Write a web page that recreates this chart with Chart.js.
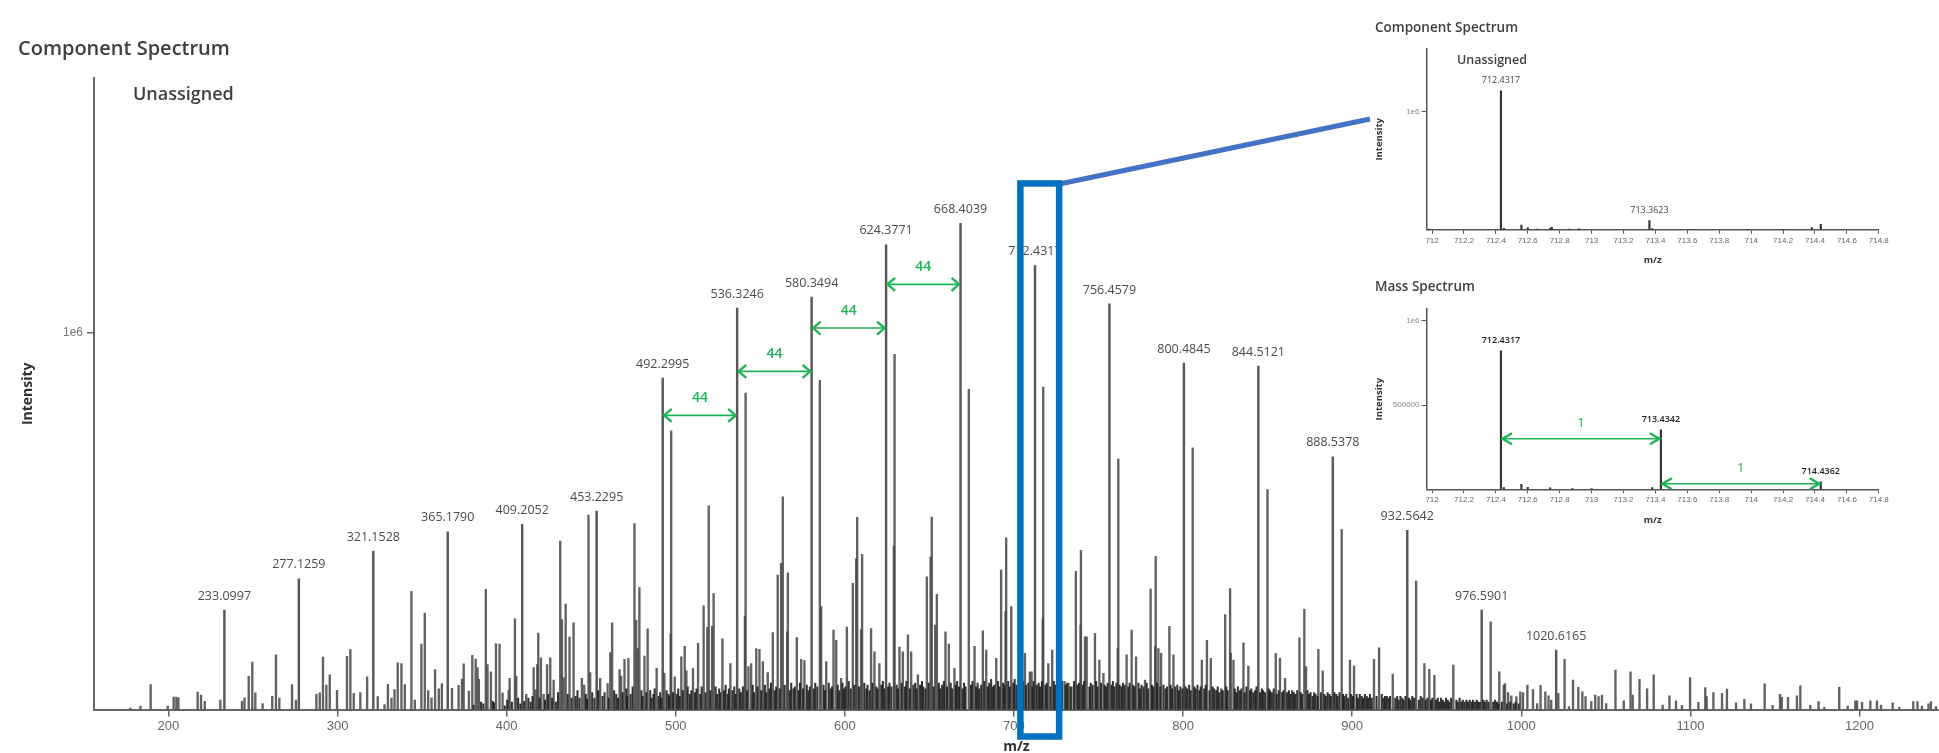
<!DOCTYPE html>
<html lang="en">
<head>
<meta charset="UTF-8">
<title>Component Spectrum</title>
<style>
    html, body { margin:0; padding:0; background:#fff; overflow:hidden; }
    .page { position:relative; width:1939px; height:753px; overflow:hidden; }
    .box-main { position:absolute; left:0; top:0; width:1939px; height:765px; }
    .box-inset1 { position:absolute; left:1360px; top:0; width:579px; height:270px; }
    .box-inset2 { position:absolute; left:1360px; top:250px; width:579px; height:280px; }
</style>
</head>
<body>
<div class="page">
    <div class="box-main"><canvas id="mainChart"></canvas></div>
    <div class="box-inset1"><canvas id="inset1"></canvas></div>
    <div class="box-inset2"><canvas id="inset2"></canvas></div>
</div>
<script src="https://cdn.jsdelivr.net/npm/chart.js@4.4.1/dist/chart.umd.min.js"></script>
<script>
// intensities are in units of 1e6

// labelled peaks of the component spectrum [m/z, intensity]
const labelledPeaks = [
    [233.0997, .264], [277.1259, .347], [321.1528, .421], [365.1790, .472], [409.2052, .492],
    [453.2295, .527], [492.2995, .880], [536.3246, 1.066], [580.3494, 1.095], [624.3771, 1.234],
    [668.4039, 1.291], [712.4317, 1.179], [756.4579, 1.077], [800.4845, .920], [844.5121, .912],
    [888.5378, .671], [932.5642, .476], [976.5901, .264], [1020.6165, .158]
];

// other visible peaks [m/z, intensity]
const otherPeaks = [
    [177.5, .004], [183.5, .009], [189.5, .066], [199.6, .009], [203.1, .033], [204.7, .033], [205.9, .031],
    [217.3, .046], [219.3, .038], [221.5, .022], [230.7, .025], [243.5, .022], [245.0, .031], [247.5, .088],
    [249.6, .126], [251.4, .044], [255.7, .016], [261.4, .035], [263.6, .145], [265.6, .030], [273.1, .066],
    [275.4, .025], [287.5, .040], [289.5, .044], [291.4, .139], [293.4, .065], [295.4, .092], [299.7, .051],
    [305.6, .141], [307.6, .159], [309.6, .043], [313.5, .045], [317.5, .087], [323.8, .034], [327.8, .013],
    [329.8, .067], [331.9, .030], [333.7, .053], [335.6, .124], [337.8, .122], [339.8, .066], [343.7, .314],
    [345.7, .025], [349.6, .174], [351.6, .256], [353.6, .050], [355.6, .031], [357.7, .106], [359.9, .055],
    [361.7, .069], [367.7, .056], [371.6, .064], [373.6, .081], [374.6, .121], [377.7, .049], [379.7, .144],
    [381.7, .134], [382.8, .111], [383.6, .080], [387.7, .319], [388.7, .119], [390.7, .100], [393.7, .175],
    [395.8, .174], [397.6, .044], [401.2, .050], [401.8, .083], [404.9, .241], [405.7, .088], [411.6, .040],
    [416.0, .111], [417.1, .053], [418.1, .119], [418.7, .203], [420.3, .137], [421.9, .040], [423.9, .119],
    [425.8, .137], [427.8, .078], [431.7, .447], [432.7, .239], [433.7, .084], [434.9, .280], [437.2, .192],
    [439.6, .230], [444.5, .083], [445.9, .065], [448.4, .516], [449.4, .098], [455.3, .083], [459.7, .069],
    [461.3, .151], [462.4, .230], [466.8, .106], [467.7, .089], [469.7, .133], [472.0, .136], [475.6, .494],
    [476.6, .237], [477.6, .162], [478.5, .324], [481.5, .142], [483.4, .214], [488.7, .109], [493.3, .096],
    [497.0, .200], [497.3, .740], [499.4, .087], [503.3, .140], [505.3, .168], [506.3, .103], [510.2, .109],
    [513.2, .176], [516.5, .275], [518.7, .218], [519.5, .541], [521.5, .221], [522.4, .308], [527.6, .188],
    [532.3, .122], [540.9, .248], [541.3, .840], [543.0, .114], [544.6, .122], [547.6, .162], [549.5, .160],
    [551.5, .127], [554.4, .098], [557.4, .204], [560.3, .357], [562.3, .388], [563.3, .565], [565.9, .206],
    [566.3, .363], [571.6, .191], [574.2, .133], [576.1, .130], [585.2, .874], [586.0, .273], [589.0, .127],
    [593.3, .211], [594.9, .184], [597.8, .083], [601.2, .219], [604.7, .335], [606.7, .401], [607.3, .510],
    [609.6, .212], [610.2, .412], [615.5, .215], [617.5, .153], [620.4, .122], [629.0, .434], [629.4, .943],
    [632.3, .166], [634.3, .153], [637.3, .198], [639.2, .153], [643.2, .092], [648.5, .352], [650.7, .405],
    [651.4, .511], [653.4, .224], [654.4, .306], [659.5, .206], [661.5, .174], [664.8, .109], [673.3, .850],
    [676.7, .168], [681.6, .209], [683.6, .158], [689.5, .136], [692.4, .370], [695.0, .260], [695.4, .456],
    [698.4, .273], [706.5, .149], [709.4, .100], [710.4, .100], [717.0, .240], [717.3, .856], [720.3, .122],
    [722.6, .158], [727.5, .070], [729.9, .075], [732.2, .070], [734.0, .060], [736.6, .367], [739.4, .224],
    [739.6, .423], [742.0, .193], [743.0, .193], [747.9, .202], [750.5, .131], [752.9, .096], [761.4, .162],
    [761.7, .665], [766.6, .145], [769.6, .211], [772.2, .140], [777.5, .078], [780.8, .320], [783.5, .167],
    [783.8, .407], [785.4, .162], [787.0, .149], [791.9, .221], [794.3, .145], [805.7, .695], [811.1, .131],
    [814.1, .184], [816.4, .136], [824.9, .252], [827.8, .321], [828.2, .149], [829.8, .131], [835.7, .177],
    [838.6, .115], [849.9, .584], [854.8, .149], [857.3, .136], [860.3, .083], [868.8, .190], [871.7, .267],
    [872.7, .114], [880.0, .160], [882.6, .103], [893.8, .478], [898.7, .131], [901.1, .115], [912.9, .133],
    [915.9, .164], [924.0, .094], [937.8, .341], [942.7, .122], [945.6, .107], [948.6, .091], [959.8, .118],
    [981.9, .233], [987.0, .100], [989.6, .065], [990.4, .069], [992.2, .045], [994.1, .036], [997.1, .034],
    [999.4, .047], [1001.0, .045], [1003.6, .065], [1006.9, .053], [1009.4, .016], [1011.4, .064], [1014.2, .047],
    [1016.1, .036], [1017.7, .025], [1021.9, .043], [1025.6, .133], [1028.2, .008], [1030.6, .078], [1033.7, .059],
    [1036.1, .047], [1038.0, .034], [1041.4, .021], [1043.7, .038], [1045.7, .034], [1047.7, .038], [1050.2, .016],
    [1055.7, .105], [1060.6, .023], [1064.6, .100], [1065.9, .038], [1069.9, .080], [1074.4, .055], [1078.3, .092],
    [1083.6, .012], [1087.6, .036], [1091.5, .023], [1095.0, .011], [1099.8, .085], [1104.7, .019], [1108.8, .058],
    [1109.6, .034], [1113.6, .045], [1118.7, .043], [1121.6, .054], [1127.0, .018], [1131.9, .027], [1135.8, .015],
    [1143.9, .068], [1148.6, .011], [1153.0, .040], [1154.0, .032], [1157.7, .032], [1163.0, .036], [1165.0, .063],
    [1170.9, .011], [1175.8, .021], [1179.2, .006], [1188.0, .059], [1193.0, .009], [1197.5, .023], [1198.5, .023],
    [1201.5, .019], [1206.4, .023], [1210.3, .023], [1212.7, .012], [1219.6, .018], [1223.5, .006], [1231.8, .021],
    [1234.3, .021], [1236.9, .009], [1240.8, .015], [1242.2, .021], [1245.2, .008]
];

// dense low-level peaks that make the dark floor [m/z, intensity]
const floorPeaks = [
    [380.4, .012], [384.9, .020], [386.2, .015], [391.8, .022], [392.5, .018], [398.9, .010], [400.3, .025],
    [403.1, .020], [406.8, .030], [408.1, .015], [410.4, .022], [412.9, .030], [414.2, .020], [415.3, .035],
    [419.5, .030], [422.7, .025], [424.6, .040], [426.9, .030], [429.1, .020], [430.4, .045], [436.1, .040],
    [438.4, .030], [440.8, .035], [441.9, .050], [443.1, .030], [446.8, .040], [447.5, .028], [450.6, .045],
    [451.9, .030], [454.1, .050], [456.7, .035], [457.9, .045], [460.3, .030], [463.6, .050], [464.8, .040],
    [465.9, .030], [468.6, .045], [470.8, .055], [471.2, .035], [473.3, .040], [474.5, .060], [479.7, .050],
    [480.4, .035], [482.6, .045], [484.9, .050], [485.7, .030], [486.8, .040], [487.5, .055], [489.9, .035],
    [490.8, .045], [491.5, .030], [494.6, .050], [495.7, .040], [496.2, .035], [498.4, .045], [500.6, .040],
    [501.5, .055], [502.4, .035], [504.2, .050], [507.1, .060], [508.3, .040], [509.2, .050], [511.4, .045],
    [512.3, .055], [514.5, .040], [515.3, .060], [517.6, .045], [520.4, .050], [523.6, .060], [524.5, .040],
    [525.7, .055], [526.4, .045], [528.6, .050], [529.5, .065], [530.7, .040], [531.4, .055], [533.5, .050],
    [534.6, .060], [535.4, .040], [537.6, .055], [538.5, .045], [539.7, .060], [542.2, .050], [545.5, .065],
    [546.3, .045], [548.4, .060], [550.5, .050], [552.7, .065], [553.5, .045], [555.4, .055], [556.3, .070],
    [558.6, .050], [559.4, .060], [561.5, .055], [564.4, .065], [567.5, .050], [568.3, .070], [569.6, .055],
    [570.4, .060], [572.7, .050], [573.4, .070], [575.3, .055], [577.5, .065], [578.4, .050], [579.3, .060],
    [581.6, .055], [582.5, .070], [583.7, .060], [587.4, .065], [588.2, .050], [590.5, .070], [591.6, .055],
    [592.4, .060], [595.8, .065], [596.7, .050], [598.6, .070], [599.5, .055], [600.4, .060], [602.3, .075],
    [603.5, .055], [605.6, .065], [608.4, .060], [611.5, .070], [612.7, .055], [613.4, .065], [614.6, .050],
    [616.4, .070], [618.6, .060], [619.4, .055], [621.6, .065], [622.5, .075], [623.4, .055], [625.6, .060],
    [626.4, .070], [627.5, .060], [630.6, .065], [631.4, .055], [633.5, .070], [635.6, .060], [636.4, .075],
    [638.4, .055], [640.5, .065], [641.6, .070], [642.4, .055], [644.5, .065], [645.6, .075], [646.4, .060],
    [647.6, .055], [649.6, .070], [652.5, .060], [655.6, .070], [656.4, .055], [657.5, .065], [658.6, .075],
    [660.4, .060], [662.6, .070], [663.5, .055], [665.6, .065], [666.4, .075], [667.5, .060], [669.6, .055],
    [670.5, .070], [671.4, .060], [674.6, .065], [675.5, .075], [677.6, .060], [678.5, .070], [679.4, .055],
    [680.6, .065], [682.5, .075], [684.6, .060], [685.4, .070], [686.5, .080], [687.6, .060], [688.4, .065],
    [690.6, .075], [691.5, .060], [693.6, .070], [694.4, .065], [696.6, .075], [697.5, .060], [699.6, .070],
    [700.4, .080], [701.5, .065], [702.6, .070], [703.5, .060], [705.4, .075], [707.1, .065], [708.5, .070],
    [710.9, .060], [711.6, .075], [713.5, .065], [714.6, .070], [715.4, .060], [716.5, .075], [718.6, .065],
    [719.4, .070], [721.5, .060], [723.6, .075], [724.4, .065], [725.5, .070], [726.6, .060], [728.4, .075],
    [730.6, .065], [731.5, .070], [733.4, .060], [735.5, .075], [737.6, .065], [738.4, .070], [740.6, .065],
    [741.5, .075], [744.6, .060], [745.4, .070], [746.5, .065], [748.6, .075], [749.4, .060], [751.5, .070],
    [753.6, .065], [754.5, .060], [755.4, .070], [757.6, .065], [758.5, .075], [759.4, .060], [760.6, .070],
    [762.5, .065], [763.6, .060], [764.4, .070], [765.5, .065], [767.6, .060], [768.4, .070], [770.5, .065],
    [771.4, .060], [773.6, .070], [774.5, .055], [775.4, .065], [776.6, .060], [778.5, .070], [779.4, .055],
    [781.6, .065], [782.4, .060], [784.6, .070], [786.5, .060], [788.4, .065], [789.6, .055], [790.5, .060],
    [792.6, .065], [793.5, .055], [795.4, .060], [796.6, .065], [797.5, .050], [798.4, .060], [799.6, .055],
    [801.5, .060], [802.4, .055], [803.6, .065], [804.5, .050], [806.6, .060], [807.4, .055], [808.5, .065],
    [809.6, .050], [810.4, .060], [812.5, .055], [813.4, .065], [815.6, .050], [817.5, .060], [818.4, .055],
    [819.6, .050], [820.5, .060], [821.4, .045], [822.6, .055], [823.5, .050], [825.6, .060], [826.4, .050],
    [830.6, .055], [831.5, .045], [832.4, .060], [833.6, .050], [834.5, .055], [836.4, .045], [837.5, .060],
    [839.6, .050], [840.4, .055], [841.5, .045], [842.6, .050], [843.4, .060], [845.5, .045], [846.6, .055],
    [847.4, .050], [848.5, .045], [850.6, .055], [851.4, .050], [852.5, .045], [853.6, .055], [855.4, .040],
    [856.5, .050], [858.6, .045], [859.4, .050], [861.5, .045], [862.6, .050], [863.4, .040], [864.5, .050],
    [865.6, .045], [866.4, .040], [867.5, .050], [869.6, .045], [870.4, .040], [873.6, .050], [874.5, .040],
    [875.4, .045], [876.6, .035], [877.5, .045], [878.4, .040], [879.6, .035], [881.5, .045], [883.6, .040],
    [884.4, .035], [885.5, .045], [886.6, .040], [887.4, .035], [889.5, .045], [890.6, .040], [891.4, .035],
    [892.5, .045], [894.6, .040], [895.4, .035], [896.5, .040], [897.6, .030], [899.4, .040], [900.5, .035],
    [902.6, .040], [903.4, .030], [904.5, .040], [905.6, .035], [906.4, .030], [907.5, .040], [908.6, .035],
    [909.4, .030], [910.5, .040], [911.6, .030], [914.4, .035], [917.5, .040], [918.6, .030], [919.4, .035],
    [920.5, .035], [921.6, .030], [922.4, .035], [925.5, .030], [926.6, .035], [927.4, .025], [928.5, .035],
    [929.6, .030], [930.4, .025], [931.5, .035], [933.6, .030], [934.4, .025], [935.5, .035], [936.6, .030],
    [939.4, .025], [940.5, .035], [941.6, .030], [943.4, .025], [944.5, .030], [946.6, .025], [947.4, .030],
    [949.5, .025], [950.6, .030], [951.4, .020], [952.5, .030], [953.6, .025], [954.4, .020], [955.5, .030],
    [956.6, .025], [957.4, .020], [958.5, .030], [961.6, .025], [962.4, .020], [963.5, .030], [964.6, .020],
    [965.4, .025], [966.5, .020], [967.6, .025], [968.4, .020], [969.5, .025], [970.6, .020], [971.4, .025],
    [972.5, .020], [973.6, .025], [974.4, .020], [975.5, .020], [977.6, .025], [978.4, .020], [979.5, .025],
    [980.6, .020], [983.4, .020], [984.5, .025], [985.6, .020], [986.4, .015], [988.5, .020], [991.6, .015],
    [993.4, .020], [995.5, .015], [996.6, .020], [998.4, .015]
];

// 44 Da spacing arrows [from m/z, to m/z, height]
const gapArrows = [
    [492.2995, 536.3246, .781], [536.3246, 580.3494, .898],
    [580.3494, 624.3771, 1.013], [624.3771, 668.4039, 1.129]
];

// zoom box around the 712 peak [from m/z, to m/z, top]
const zoomBox = [703.8, 726.7, 1.397];

const mainXTicks = [200, 300, 400, 500, 600, 700, 800, 900, 1000, 1100, 1200];
const mainYTicks = [1];
const mainYTickLabels = ['1e6'];

// insets (712 - 714.8 window)
const insetXTicks = [712, 712.2, 712.4, 712.6, 712.8, 713, 713.2, 713.4, 713.6, 713.8, 714, 714.2, 714.4, 714.6, 714.8];
const insetXTickLabels = ['712', '712.2', '712.4', '712.6', '712.8', '713', '713.2', '713.4', '713.6', '713.8', '714', '714.2', '714.4', '714.6', '714.8'];

const compPeaks = [
    [711.98, .005], [712.4317, 1.175], [712.45, .012], [712.56, .040], [712.60, .016], [712.66, .005],
    [712.74, .012], [712.75, .020], [712.86, .006], [712.92, .008], [713.3623, .078], [713.38, .010],
    [713.62, .004], [713.98, .004], [714.2, .004], [714.38, .018], [714.4362, .045]
];
const compLabels = [[712.4317, 1.175], [713.3623, .078]];

const massPeaks = [
    [712.4317, .822], [712.45, .010], [712.56, .030], [712.60, .012], [712.74, .008], [712.88, .005],
    [713.0, .005], [713.38, .010], [713.4342, .353], [714.38, .010], [714.4362, .044]
];
const massLabels = [[712.4317, .822], [713.4342, .353], [714.4362, .044]];
const massArrows = [[712.4317, 713.4342, .30], [713.4342, 714.4362, .033]];

const GREEN = '#1db356';
const TEXT = '#3f3f3f';

function toPoints(list) {
    return list.map(p => ({x: p[0], y: p[1]}));
}

function drawArrow(ctx, x1, x2, yy, head, half, color) {
    ctx.strokeStyle = color;
    ctx.lineWidth = 1.6;
    ctx.beginPath();
    ctx.moveTo(x1 + 1, yy);
    ctx.lineTo(x2 - 1, yy);
    ctx.stroke();
    ctx.lineWidth = 2.4;
    ctx.lineJoin = 'miter';
    ctx.beginPath();
    ctx.moveTo(x1 + head, yy - half);
    ctx.lineTo(x1 + 1.5, yy);
    ctx.lineTo(x1 + head, yy + half);
    ctx.moveTo(x2 - head, yy - half);
    ctx.lineTo(x2 - 1.5, yy);
    ctx.lineTo(x2 - head, yy + half);
    ctx.stroke();
}

const mainMarks = {
    id: 'mainMarks',
    afterDraw(chart) {
        const {ctx} = chart;
        const x = chart.scales.x;
        const y = chart.scales.y;
        ctx.save();

        ctx.fillStyle = TEXT;
        ctx.textAlign = 'left';
        ctx.textBaseline = 'middle';
        ctx.font = '600 20px "Open Sans"';
        ctx.fillText('Component Spectrum', 18, 49);
        ctx.font = '600 18px "Open Sans"';
        ctx.fillText('Unassigned', 133, 95);

        // peak labels
        ctx.fillStyle = '#4a4a4a';
        ctx.textAlign = 'center';
        ctx.font = '12.5px "Open Sans"';
        labelledPeaks.forEach(p => {
            ctx.fillText(p[0].toFixed(4), x.getPixelForValue(p[0]), y.getPixelForValue(p[1]) - 14);
        });

        // 44 arrows
        gapArrows.forEach(a => {
            const x1 = x.getPixelForValue(a[0]);
            const x2 = x.getPixelForValue(a[1]);
            const yy = y.getPixelForValue(a[2]);
            drawArrow(ctx, x1, x2, yy, 9, 6.5, GREEN);
            ctx.fillStyle = GREEN;
            ctx.font = '600 14px "Open Sans"';
            ctx.fillText(String(Math.round(a[1] - a[0])), (x1 + x2) / 2, yy - 17);
        });

        // zoom box + connector to the inset
        const bl = x.getPixelForValue(zoomBox[0]);
        const br = x.getPixelForValue(zoomBox[1]);
        const bt = y.getPixelForValue(zoomBox[2]);
        const bb = chart.chartArea.bottom + 27;
        ctx.strokeStyle = '#4472c4';
        ctx.lineWidth = 5;
        ctx.beginPath();
        ctx.moveTo(br - 2, bt + 1);
        ctx.lineTo(1370, 119);
        ctx.stroke();
        ctx.strokeStyle = '#0070c0';
        ctx.lineWidth = 6.5;
        ctx.strokeRect(bl, bt, br - bl, bb - bt);

        ctx.restore();
    }
};

new Chart(document.getElementById('mainChart'), {
    type: 'bar',
    data: {
        datasets: [
            {data: toPoints(floorPeaks), backgroundColor: 'rgba(30,30,30,0.9)', barThickness: 1.4, grouped: false},
            {data: toPoints(otherPeaks), backgroundColor: 'rgba(70,70,70,0.85)', barThickness: 1.7, grouped: false},
            {data: toPoints(labelledPeaks), backgroundColor: 'rgba(70,70,70,0.9)', barThickness: 1.8, grouped: false}
        ]
    },
    options: {
        animation: false,
        responsive: true,
        maintainAspectRatio: false,
        layout: {padding: {top: 78, left: 0, right: 0, bottom: 0}},
        plugins: {legend: {display: false}, tooltip: {enabled: false}},
        scales: {
            x: {
                type: 'linear', min: 156, max: 1247, offset: false,
                afterFit: s => { s.height = 55.5; },
                afterBuildTicks: s => { s.ticks = mainXTicks.map(v => ({value: v})); },
                grid: {drawOnChartArea: false, offset: false, tickLength: 7, color: '#666', lineWidth: 1.5},
                border: {color: '#666', width: 2},
                ticks: {autoSkip: false, maxRotation: 0, padding: 2, color: '#666',
                    font: {family: '"Liberation Sans", Arial', size: 13},
                    callback: (v, i) => String(mainXTicks[i])},
                title: {display: true, text: 'm/z', color: '#333', padding: {top: 0, bottom: 9.6},
                    font: {family: '"Open Sans"', size: 14, weight: 'bold'}}
            },
            y: {
                min: 0, max: 1.677,
                afterFit: s => { s.width = 94; },
                afterBuildTicks: s => { s.ticks = mainYTicks.map(v => ({value: v})); },
                grid: {drawOnChartArea: false, tickLength: 7, color: '#666', lineWidth: 1.5},
                border: {color: '#666', width: 2},
                ticks: {padding: 4, color: '#777', font: {family: '"Liberation Sans", Arial', size: 12},
                    callback: (v, i) => mainYTickLabels[i]},
                title: {display: true, text: 'Intensity', color: '#333', padding: {top: 20, bottom: 0},
                    font: {family: '"Open Sans"', size: 14, weight: 'bold'}}
            }
        }
    },
    plugins: [mainMarks]
});

function insetMarks(opts) {
    return {
        id: 'insetMarks',
        afterDraw(chart) {
            const {ctx} = chart;
            const x = chart.scales.x;
            const y = chart.scales.y;
            ctx.save();
            ctx.textBaseline = 'middle';
            ctx.textAlign = 'left';
            ctx.fillStyle = TEXT;
            ctx.font = '600 13.5px "Open Sans"';
            ctx.fillText(opts.title, 15, opts.titleY);
            if (opts.sub) {
                ctx.font = '600 12.5px "Open Sans"';
                ctx.fillText(opts.sub, 97, 60);
            }
            ctx.textAlign = 'center';
            ctx.fillStyle = opts.labelColor;
            ctx.font = opts.labelFont;
            opts.labels.forEach(p => {
                ctx.fillText(p[0].toFixed(4), x.getPixelForValue(p[0]), y.getPixelForValue(p[1]) - 10);
            });
            (opts.arrows || []).forEach(a => {
                const x1 = x.getPixelForValue(a[0]);
                const x2 = x.getPixelForValue(a[1]);
                const yy = y.getPixelForValue(a[2]);
                drawArrow(ctx, x1, x2, yy, 11, 5.5, GREEN);
                ctx.fillStyle = GREEN;
                ctx.font = '13px "Open Sans"';
                ctx.fillText(String(Math.round(a[1] - a[0])), (x1 + x2) / 2, yy - 15);
            });
            ctx.restore();
        }
    };
}

function makeInset(id, peaks, yMax, yTicks, yLabels, topPad, xHeight, titlePadX, marks) {
    new Chart(document.getElementById(id), {
        type: 'bar',
        data: {datasets: [{data: toPoints(peaks), backgroundColor: '#333', barThickness: 1.5, grouped: false}]},
        options: {
            animation: false,
            responsive: true,
            maintainAspectRatio: false,
            layout: {padding: {top: topPad, left: 0, right: 60.2, bottom: 0}},
            plugins: {legend: {display: false}, tooltip: {enabled: false}},
            scales: {
                x: {
                    type: 'linear', min: 711.965, max: 714.8, offset: false,
                    afterFit: s => { s.height = xHeight; },
                    afterBuildTicks: s => { s.ticks = insetXTicks.map(v => ({value: v})); },
                    grid: {drawOnChartArea: false, offset: false, tickLength: 4, color: '#555', lineWidth: 1},
                    border: {color: '#555', width: 1.5},
                    ticks: {autoSkip: false, maxRotation: 0, padding: 2, color: '#666',
                        font: {family: '"Liberation Sans", Arial', size: 8},
                        callback: (v, i) => insetXTickLabels[i]},
                    title: {display: true, text: 'm/z', color: '#333', padding: {top: 0, bottom: titlePadX},
                        font: {family: '"Open Sans"', size: 9.5, weight: 'bold'}}
                },
                y: {
                    min: 0, max: yMax,
                    afterFit: s => { s.width = 66.5; },
                    afterBuildTicks: s => { s.ticks = yTicks.map(v => ({value: v})); },
                    grid: {drawOnChartArea: false, tickLength: 5, color: '#555', lineWidth: 1},
                    border: {color: '#555', width: 1.5},
                    ticks: {padding: 2, color: '#888', font: {family: '"Liberation Sans", Arial', size: 8},
                        callback: (v, i) => yLabels[i]},
                    title: {display: true, text: 'Intensity', color: '#333', padding: {top: 14, bottom: 0},
                        font: {family: '"Open Sans"', size: 9.5, weight: 'bold'}}
                }
            }
        },
        plugins: [marks]
    });
}

makeInset('inset1', compPeaks, 1.529, [1], ['1e6'], 49, 40.3, 4.3,
    insetMarks({title: 'Component Spectrum', titleY: 28, sub: 'Unassigned', labels: compLabels,
        labelColor: '#444', labelFont: '9px "Open Sans"'}));

makeInset('inset2', massPeaks, 1.0707, [0.5, 1], ['500000', '1e6'], 59, 40.7, 3.6,
    insetMarks({title: 'Mass Spectrum', titleY: 37, labels: massLabels, arrows: massArrows,
        labelColor: '#222', labelFont: '600 9px "Open Sans"'}));
</script>
</body>
</html>
